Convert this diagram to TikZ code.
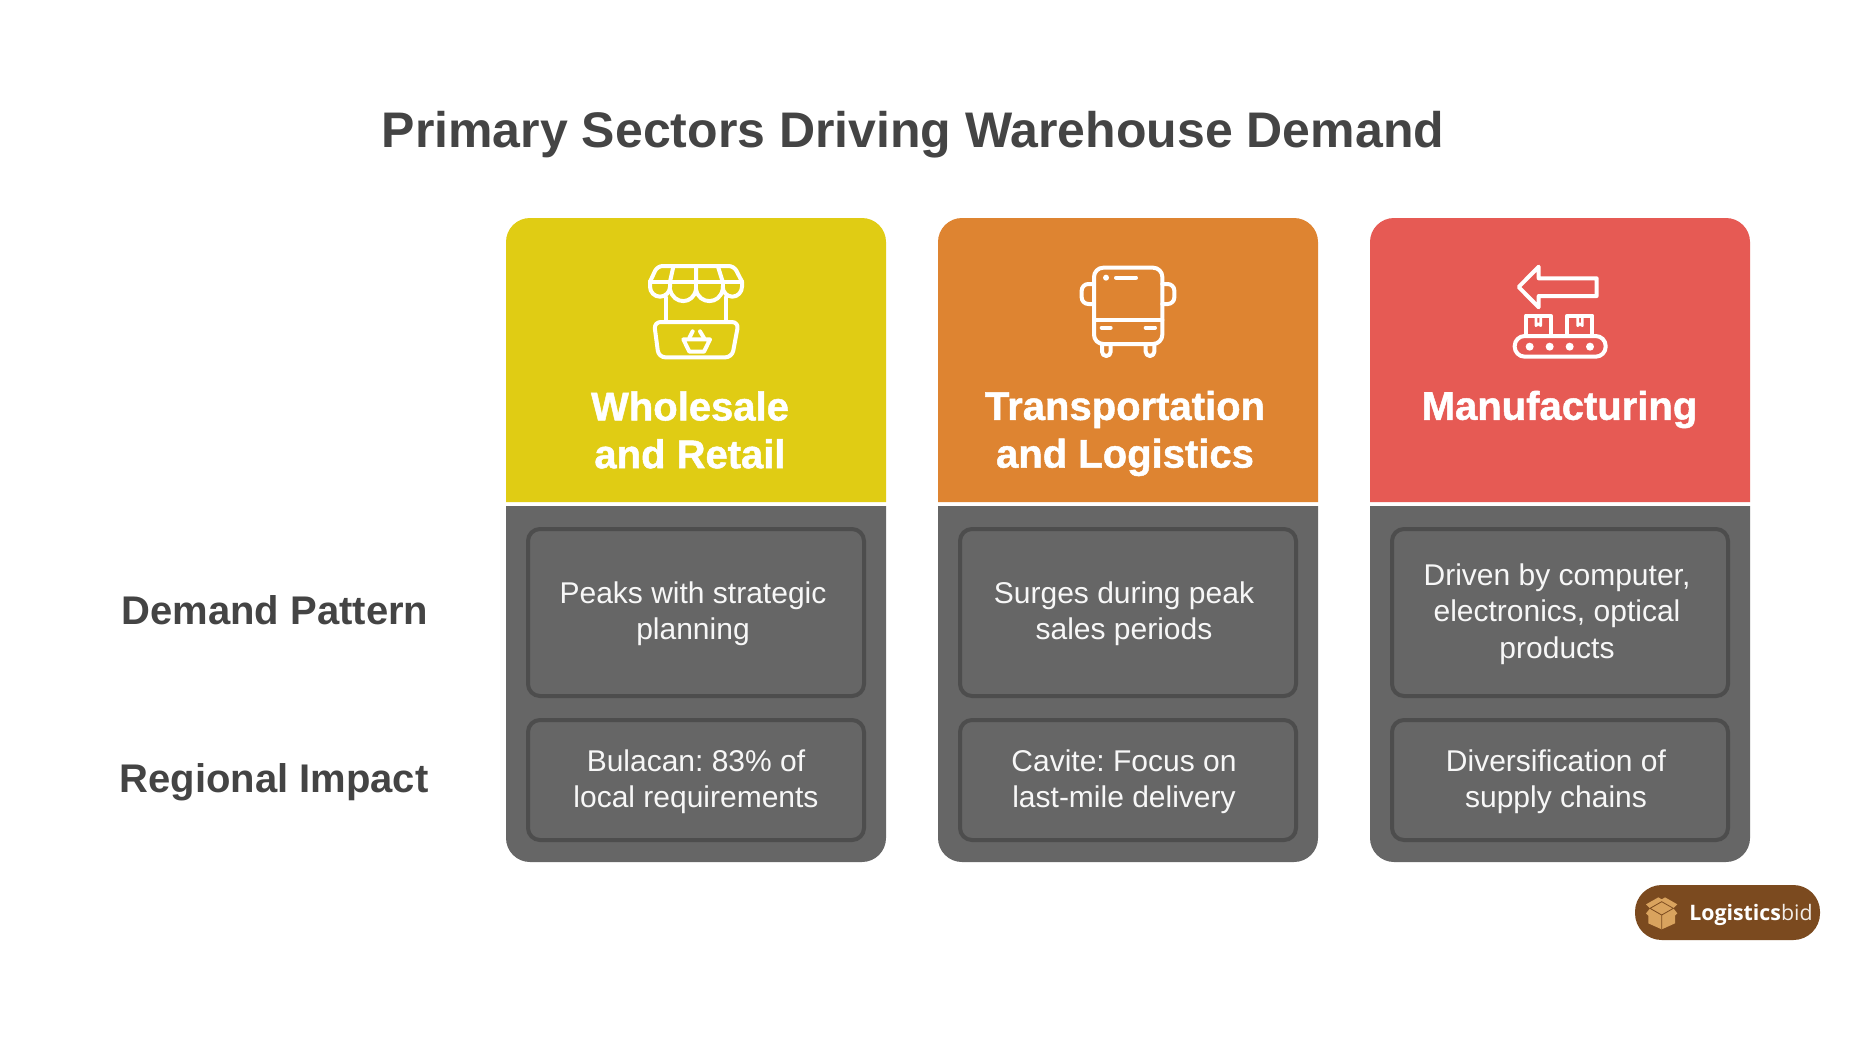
\documentclass[tikz,border=0pt]{standalone}
\usepackage{fontspec}
\setmainfont{Liberation Sans}
\newfontfamily\logofont{Open Sans}
\newfontfamily\headfont[FakeBold=1.2]{Liberation Sans Bold}
\AtBeginDocument{\frenchspacing}
\definecolor{cyellow}{HTML}{E0CC14}
\definecolor{corange}{HTML}{DE8431}
\definecolor{cred}{HTML}{E65A54}
\definecolor{cgrey}{HTML}{666666}
\definecolor{cborder}{HTML}{4D4D4D}
\definecolor{ctext}{HTML}{444444}
\definecolor{cbody}{HTML}{F7F7F7}
\definecolor{cbrown}{HTML}{7B4A1F}
\definecolor{cbox}{HTML}{D9A35E}
\tikzset{
  titletext/.style={text=ctext,font=\bfseries\fontsize{37.5}{42}\selectfont,inner sep=0pt},
  sidetext/.style={text=ctext,font=\bfseries\fontsize{30}{36}\selectfont,inner sep=0pt},
  headtext/.style={text=white,font=\headfont\fontsize{30}{35.8}\selectfont,align=center,inner sep=0pt},
  bodytext/.style={text=cbody,font=\fontsize{22.5}{27.2}\selectfont,align=center,inner sep=0pt},
  iconline/.style={draw=white,line width=3pt,line join=round,line cap=round},
}
\newcommand{\colpanel}[2]{%
  \fill[#2] (#1,502) [rounded corners=18pt] -- (#1,218) -- ({#1+380},218) [sharp corners] -- ({#1+380},502) -- cycle;
  \fill[cgrey] (#1,506) -- ({#1+380},506) [rounded corners=18pt] -- ({#1+380},862) -- (#1,862) [sharp corners] -- cycle;
  \draw[cborder,line width=3pt,rounded corners=9pt] ({#1+22},529) rectangle ({#1+358},696);
  \draw[cborder,line width=3pt,rounded corners=9pt] ({#1+22},720) rectangle ({#1+358},840);
}
\begin{document}
\begin{tikzpicture}[x=0.75pt,y=-0.75pt]
\useasboundingbox (0,0) rectangle (1869,1036);
\fill[white] (0,0) rectangle (1869,1036);
\node[titletext] (title) at (913,135) {Primary Sectors Driving Warehouse Demand};
\colpanel{506}{cyellow}
\colpanel{938}{corange}
\colpanel{1370}{cred}
\node[sidetext] (demand) at (275,610) {Demand Pattern};
\node[sidetext] (regional) at (274,782.5) {Regional Impact};
\node[headtext] (h1) at (690,430) {Wholesale\\and Retail};
\node[headtext] (h2) at (1125,433.5) {Transportation\\and Logistics};
\node[headtext] (h3) at (1559.5,409.5) {Manufacturing};
\node[bodytext] (a1) at (693,614) {Peaks with strategic\\planning};
\node[bodytext] (a2) at (1124,614) {Surges during peak\\sales periods};
\node[bodytext] (a3) at (1557,614) {Driven by computer,\\electronics, optical\\products};
\node[bodytext] (b1) at (696,782) {Bulacan: 83\% of\\local requirements};
\node[bodytext] (b2) at (1124,782) {Cavite: Focus on\\last-mile delivery};
\node[bodytext] (b3) at (1556,782) {Diversification of\\supply chains};
% stall icon
\begin{scope}[shift={(630,240)},x=0.25pt,y=-0.25pt,iconline]
\draw[rounded corners=4pt] (60,125) -- (82,78) -- (312,78) -- (336,125);
\draw (60,125) -- (336,125);
\draw (130,80) -- (120,125) (198,78) -- (198,125) (264,80) -- (278,125);
\draw (60,125) -- (60,140) arc[start angle=180,end angle=0,x radius=30,y radius=30] -- (120,125);
\draw (120,148) .. controls (130,195) and (190,195) .. (198,148);
\draw (198,148) .. controls (206,195) and (270,195) .. (278,148);
\draw (198,125) -- (198,148) (278,125) -- (278,148);
\draw (278,140) arc[start angle=180,end angle=0,x radius=29,y radius=30] -- (336,125);
\draw (108,172) -- (108,242) (288,172) -- (288,242);
\draw[rounded corners=5pt] (72,246) -- (326,246) -- (306,352) -- (86,352) -- cycle;
\draw (160,298) -- (240,298) -- (222,335) -- (178,335) -- cycle;
\draw (178,294) -- (188,274) (222,294) -- (210,274);
\end{scope}
% bus icon
\begin{scope}[shift={(1040,240)},x=0.25pt,y=-0.25pt,iconline]
\draw[rounded corners=7pt] (162,83) rectangle (367,312);
\draw (162,240) -- (367,240);
\fill[white,draw=none] (198,113) circle[radius=9];
\draw (228,113) -- (288,113);
\draw[rounded corners=5pt] (162,132) -- (125,132) -- (125,192) -- (162,192);
\draw[rounded corners=5pt] (367,132) -- (403,132) -- (403,192) -- (367,192);
\draw (185,263) -- (212,263) (317,263) -- (345,263);
\draw (186,312) -- (186,335) arc[start angle=180,end angle=0,radius=13] -- (212,312);
\draw (317,312) -- (317,335) arc[start angle=180,end angle=0,radius=13] -- (343,312);
\end{scope}
% conveyor icon
\begin{scope}[shift={(1480,240)},x=0.25pt,y=-0.25pt,iconline]
\draw (116,141) -- (176,80) -- (176,115) -- (350,115) -- (350,168) -- (176,168) -- (176,202) -- cycle;
\draw (138,285) -- (138,227) -- (212,227) -- (212,285);
\draw (262,285) -- (262,227) -- (337,227) -- (337,285);
\draw[line width=2pt] (168,227) -- (168,257) -- (175,251) -- (182,257) -- (182,227);
\draw[line width=2pt] (293,227) -- (293,257) -- (300,251) -- (307,257) -- (307,227);
\draw[rounded corners=7.5pt] (104,288) rectangle (377,350);
\foreach \dx in {149,209,269,330} \fill[white,draw=none] (\dx,320) circle[radius=12];
\end{scope}
% logo
\fill[cbrown,rounded corners=20pt] (1635,885) rectangle (1820,940);
\node[text=white,font=\logofont\fontsize{16}{20}\selectfont,anchor=west,inner sep=0pt] (logo) at (1689,915) {\textbf{Logistics}{\color{white!90!cbrown}bid}};
\begin{scope}[shift={(1620,870)},x=0.25pt,y=-0.25pt]
\fill[cbox] (78,103) -- (115,82) -- (125,88) -- (135,82) -- (172,103) -- (160,115) -- (172,130) -- (165,137) -- (165,160) -- (125,178) -- (85,160) -- (85,137) -- (78,130) -- (90,115) -- cycle;
\draw[cbrown,line width=0.6pt] (90,115) -- (125,95) -- (160,115) -- (125,135) -- cycle (125,135) -- (125,178);
\end{scope}
\end{tikzpicture}
\end{document}
